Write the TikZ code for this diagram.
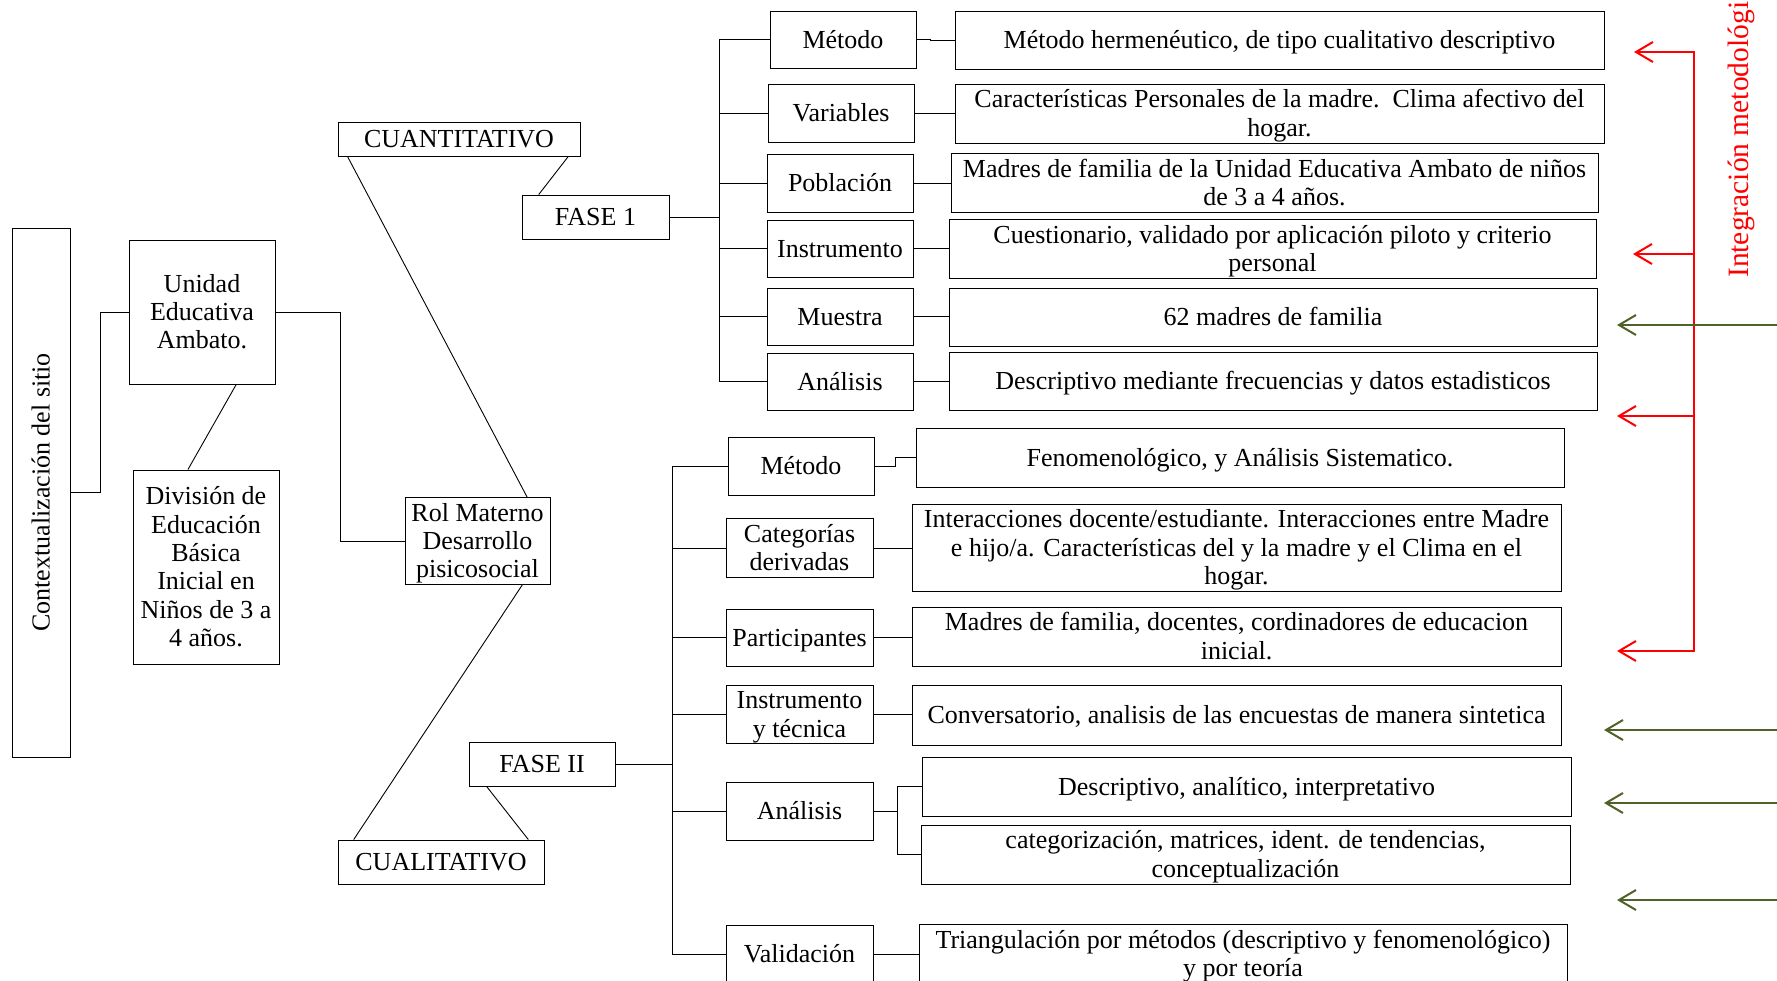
\documentclass[tikz,border=0pt]{standalone}
\usepackage{fontspec}
\usepackage{array}
\setmainfont{Liberation Serif}
\usetikzlibrary{arrows.meta,calc}
\definecolor{olivegrn}{RGB}{79,98,40}
\newcommand{\diafont}{\fontsize{26}{28}\selectfont}
\newcommand{\wstrut}{\rule[-5.6pt]{0pt}{28.3pt}}
\newcommand{\bxt}[1]{{\renewcommand{\arraystretch}{0}\begin{tabular}{@{}>{\wstrut}c@{}}#1\end{tabular}}}
\begin{document}
\begin{tikzpicture}[x=1pt,y=-1pt,
  box/.style={draw, line width=0.9pt, inner sep=1pt, font=\diafont},
  ln/.style={line width=0.9pt},
  redln/.style={draw=red, line width=2pt},
  grnln/.style={draw=olivegrn, line width=2pt},
  tip/.style={-{Straight Barb[length=17pt,width=20pt]}},
  tips/.style={{Straight Barb[length=17pt,width=20pt]}-{Straight Barb[length=17pt,width=20pt]}}]
\useasboundingbox (0,0) rectangle (1777,980);
\begin{scope}
\clip (0,0) rectangle (1777,980);
% left part
\node[box, minimum width=529pt, minimum height=58pt, rotate=90] (ctx) at (41,492.5) {\bxt{Contextualización del sitio}};
\node[box, minimum width=146pt, minimum height=144pt] (unidad) at (202,312) {\bxt{Unidad\\Educativa\\Ambato.}};
\node[box, minimum width=146pt, minimum height=194pt] (division) at (206,567) {\bxt{División de\\Educación\\Básica\\Inicial en\\Niños de 3 a\\4 años.}};
\node[box, minimum width=145pt, minimum height=84pt] (rol) at (477.5,541) {\bxt{Rol Materno\\Desarrollo\\pisicosocial}};
\node[box, minimum width=242pt, minimum height=34pt] (cuanti) at (459,139) {\bxt{CUANTITATIVO}};
\node[box, minimum width=147pt, minimum height=44pt] (fase1) at (595.5,217) {\bxt{FASE 1}};
\node[box, minimum width=206pt, minimum height=44pt] (cuali) at (441,862) {\bxt{CUALITATIVO}};
\node[box, minimum width=146pt, minimum height=44pt] (fase2) at (542,764) {\bxt{FASE II}};
% phase 1 column
\node[box, minimum width=146pt, minimum height=57pt] (m1) at (843,39.5) {\bxt{Método}};
\node[box, minimum width=146pt, minimum height=58pt] (v1) at (841,113) {\bxt{Variables}};
\node[box, minimum width=146pt, minimum height=58pt] (p1) at (840,183) {\bxt{Población}};
\node[box, minimum width=146pt, minimum height=57pt] (i1) at (840,248.5) {\bxt{Instrumento}};
\node[box, minimum width=146pt, minimum height=57pt] (mu1) at (840,316.5) {\bxt{Muestra}};
\node[box, minimum width=146pt, minimum height=57pt] (a1) at (840,381.5) {\bxt{Análisis}};
\node[box, minimum width=649pt, minimum height=58pt] (dm1) at (1279.5,40) {\bxt{Método hermenéutico, de tipo cualitativo descriptivo}};
\node[box, minimum width=649pt, minimum height=59pt] (dv1) at (1279.5,113.5) {\bxt{Características Personales de la madre.\ \ Clima afectivo del\\hogar.}};
\node[box, minimum width=647pt, minimum height=58pt] (dp1) at (1274.5,183) {\bxt{Madres de familia de la Unidad Educativa Ambato de niños\\de 3 a 4 años.}};
\node[box, minimum width=647pt, minimum height=58pt] (di1) at (1272.5,249) {\bxt{Cuestionario, validado por aplicación piloto y criterio\\personal}};
\node[box, minimum width=648pt, minimum height=58pt] (dmu1) at (1273,317) {\bxt{62 madres de familia}};
\node[box, minimum width=648pt, minimum height=58pt] (da1) at (1273,381) {\bxt{Descriptivo mediante frecuencias y datos estadisticos}};
% phase 2 column
\node[box, minimum width=146pt, minimum height=58pt] (m2) at (801,466) {\bxt{Método}};
\node[box, minimum width=147pt, minimum height=58pt] (c2) at (799.5,548) {\bxt{Categorías\\derivadas}};
\node[box, minimum width=147pt, minimum height=57pt] (p2) at (799.5,637.5) {\bxt{Participantes}};
\node[box, minimum width=147pt, minimum height=57pt] (i2) at (799.5,714.5) {\bxt{Instrumento\\y técnica}};
\node[box, minimum width=147pt, minimum height=58pt] (a2) at (799.5,811) {\bxt{Análisis}};
\node[box, minimum width=147pt, minimum height=58pt] (val) at (799.5,954) {\bxt{Validación}};
\node[box, minimum width=648pt, minimum height=59pt] (dm2) at (1240,457.5) {\bxt{Fenomenológico, y Análisis Sistematico.}};
\node[box, minimum width=649pt, minimum height=77pt] (dc2) at (1236.5,547.5) {\bxt{Interacciones docente/estudiante. Interacciones entre Madre\\e hijo/a. Características del y la madre y el Clima en el\\hogar.}};
\node[box, minimum width=649pt, minimum height=59pt] (dp2) at (1236.5,636.5) {\bxt{Madres de familia, docentes, cordinadores de educacion\\inicial.}};
\node[box, minimum width=649pt, minimum height=60pt] (di2) at (1236.5,715) {\bxt{Conversatorio, analisis de las encuestas de manera sintetica}};
\node[box, minimum width=649pt, minimum height=59pt] (da2a) at (1246.5,786.5) {\bxt{Descriptivo, analítico, interpretativo}};
\node[box, minimum width=649pt, minimum height=59pt] (da2b) at (1245.5,854.5) {\bxt{categorización, matrices, ident. de tendencias,\\conceptualización}};
\node[box, minimum width=648pt, minimum height=60pt] (dval) at (1243,954) {\bxt{Triangulación por métodos (descriptivo y fenomenológico)\\y por teoría}};
% left connectors
\draw[ln] (ctx.south) -- ++(30,0) |- (unidad.west);
\draw[ln] (unidad.east) -- ++(65,0) |- (rol.west);
\draw[ln] ($(unidad.south west)!0.733!(unidad.south east)$) -- ($(division.north west)!0.377!(division.north east)$);
\draw[ln] ($(cuanti.south west)!0.041!(cuanti.south east)$) -- ($(rol.north west)!0.84!(rol.north east)$);
\draw[ln] ($(cuanti.south west)!0.95!(cuanti.south east)$) -- ($(fase1.north west)!0.116!(fase1.north east)$);
\draw[ln] ($(rol.south west)!0.807!(rol.south east)$) -- ($(cuali.north west)!0.078!(cuali.north east)$);
\draw[ln] ($(fase2.south west)!0.123!(fase2.south east)$) -- ($(cuali.north west)!0.922!(cuali.north east)$);
% brackets
\coordinate (b1) at (719,217);
\draw[ln] (fase1.east) -- (b1);
\draw[ln] (b1 |- m1.west) -- (b1 |- a1.west);
\foreach \n in {m1,v1,p1,i1,mu1,a1} \draw[ln] (b1 |- \n.west) -- (\n.west);
\coordinate (b2) at (672,764);
\draw[ln] (fase2.east) -- (b2);
\draw[ln] (b2 |- m2.west) -- (b2 |- val.west);
\foreach \n in {m2,c2,p2,i2,a2,val} \draw[ln] (b2 |- \n.west) -- (\n.west);
% phase 1 item connectors
\draw[ln] (m1.east) -- ++(14,0) |- (dm1.west);
\draw[ln] (v1.east) -- (v1.east -| dv1.west);
\draw[ln] (p1.east) -- (p1.east -| dp1.west);
\draw[ln] (i1.east) -- (i1.east -| di1.west);
\draw[ln] (mu1.east) -- (mu1.east -| dmu1.west);
\draw[ln] (a1.east) -- (a1.east -| da1.west);
% phase 2 item connectors
\draw[ln] (m2.east) -- ++(21,0) |- (dm2.west);
\draw[ln] (c2.east) -- (c2.east -| dc2.west);
\draw[ln] (p2.east) -- (p2.east -| dp2.west);
\draw[ln] (i2.east) -- (i2.east -| di2.west);
\draw[ln] (a2.east) -- ++(24,0) coordinate (a2j);
\draw[ln] (a2j |- da2a.west) -- (a2j |- da2b.west);
\draw[ln] (a2j |- da2a.west) -- (da2a.west);
\draw[ln] (a2j |- da2b.west) -- (da2b.west);
\draw[ln] (val.east) -- (val.east -| dval.west);
% red integration bracket
\coordinate (rt) at (1694,52);
\coordinate (rb) at (1694,651);
\coordinate (rt1) at (1634,52);
\coordinate (rt2) at (1633,254);
\coordinate (rt3) at (1617,416);
\coordinate (rt4) at (1617,651);
\draw[redln, tips] (rt1) -- (rt) -- (rb) -- (rt4);
\draw[redln, tip] (rt |- rt2) -- (rt2);
\draw[redln, tip] (rt |- rt3) -- (rt3);
\node[font=\fontsize{29.5}{32}\selectfont, text=red, rotate=90, anchor=base west, inner sep=0pt] (integ) at (1748,278) {Integración metodológica};
% green arrows
\coordinate (g1s) at (1790,325); \coordinate (g1) at (1617,325);
\coordinate (g2s) at (1790,730); \coordinate (g2) at (1604,730);
\coordinate (g3s) at (1790,803); \coordinate (g3) at (1604,803);
\coordinate (g4s) at (1790,900); \coordinate (g4) at (1617,900);
\draw[grnln, tip] (g1s) -- (g1);
\draw[grnln, tip] (g2s) -- (g2);
\draw[grnln, tip] (g3s) -- (g3);
\draw[grnln, tip] (g4s) -- (g4);
\end{scope}
\end{tikzpicture}
\end{document}
